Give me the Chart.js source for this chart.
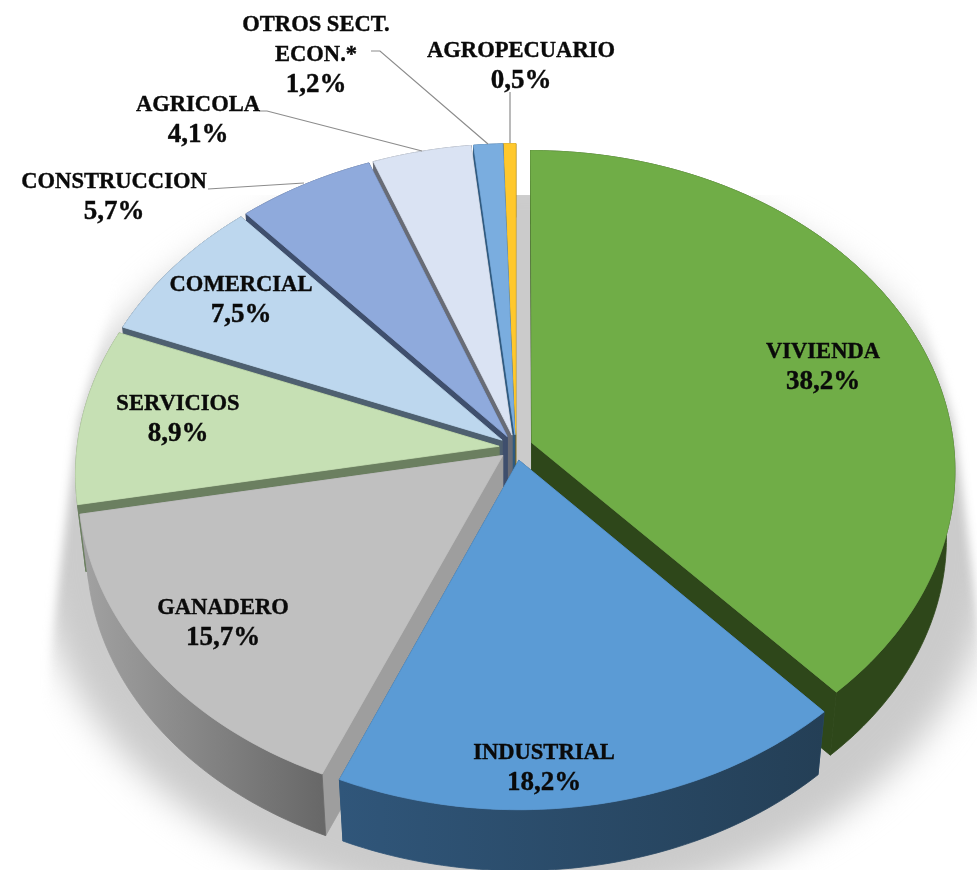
<!DOCTYPE html>
<html lang="es">
<head>
    <meta charset="UTF-8">
    <title>Consumo por sector</title>
    <script src="https://cdn.jsdelivr.net/npm/chart.js"></script>
    <style>
        html, body { margin: 0; padding: 0; background: #fff; overflow: hidden; }
        canvas { display: block; }
    </style>
</head>
<body>
    <canvas id="pie" width="977" height="870"></canvas>

    <script>
        // Data
        const categories = ['VIVIENDA', 'INDUSTRIAL', 'GANADERO', 'SERVICIOS', 'COMERCIAL', 'CONSTRUCCION', 'AGRICOLA', 'OTROS SECT.\nECON.*', 'AGROPECUARIO'];
        const shares = [38.2, 18.2, 15.7, 8.9, 7.5, 5.7, 4.1, 1.2, 0.5];

        // Styles
        const topColors = ['#70ad47', '#5b9bd5', '#c0c0c0', '#c6e0b4', '#bdd7ee', '#8faadc', '#dae3f3', '#7aaddf', '#ffc82c'];
        const wallColors = [['#2e471a', '#2e471a'], ['#30567a', '#243f56'], ['#a2a2a2', '#686868'], ['#6b7f60', '#6b7f60'], ['#4e6070', '#4e6070'], ['#3f4f6d', '#3f4f6d'], ['#686c76', '#686c76'], ['#2f5a80', '#2f5a80'], ['#8a6d10', '#8a6d10']];
        const cutColors = ['#2e471a', '#2b5478', '#9e9e9e', '#6b7f60', '#4e6070', '#3f4f6d', '#686c76', '#2f5a80', '#8a6d10'];

        // Layout of the texts, centre of the first line of each label
        const labelCenters = [[823, 351], [544, 752], [223, 607], [178, 403], [241, 284], [114, 181], [198, 104], [316, 24], [521, 50]];
        const leaderLines = [
            [[208, 189], [304, 183]],
            [[259, 111], [267, 111], [422, 151]],
            [[371, 51], [380, 51], [488, 144]],
            [[510, 92], [510, 143]]
        ];
        const lineHeight = 29.5;

        // Tilted view of the pie plane
        const squash = 0.753;
        const persp = 0.0845;
        const depth = 68;
        const bottomScale = 0.98;

        function project(arc, dx, dy) {
            const w = 1 - persp * dy / arc.outerRadius;
            return [arc.x + dx / w, arc.y + squash * dy / w];
        }

        function tracePoly(ctx, pts) {
            ctx.beginPath();
            pts.forEach((p, n) => n ? ctx.lineTo(p[0], p[1]) : ctx.moveTo(p[0], p[1]));
            ctx.closePath();
        }

        function drawSlice(ctx, arc, i) {
            const off = arc.options.offset;
            const mid = (arc.startAngle + arc.endAngle) / 2;
            const ox = Math.cos(mid) * off;
            const oy = Math.sin(mid) * off;
            const apex = project(arc, ox, oy);

            const rim = [];
            const steps = Math.max(2, Math.ceil((arc.endAngle - arc.startAngle) * 60));
            for (let s = 0; s <= steps; s++) {
                const a = arc.startAngle + (arc.endAngle - arc.startAngle) * s / steps;
                rim.push(project(arc, ox + Math.cos(a) * arc.outerRadius, oy + Math.sin(a) * arc.outerRadius));
            }
            const lower = p => [apex[0] + bottomScale * (p[0] - apex[0]), apex[1] + bottomScale * (p[1] - apex[1]) + depth];
            const rimLow = rim.map(lower);
            const apexLow = lower(apex);

            const fillPoly = (pts, fill) => {
                tracePoly(ctx, pts);
                ctx.fillStyle = fill;
                ctx.fill();
                // closes the hairline between neighbouring faces
                ctx.strokeStyle = fill;
                ctx.lineWidth = 0.8;
                ctx.stroke();
            };

            // cut faces
            const first = rim[0], last = rim[rim.length - 1];
            fillPoly([apex, first, rimLow[0], apexLow], cutColors[i]);
            fillPoly([apex, last, rimLow[rimLow.length - 1], apexLow], cutColors[i]);

            // outer wall
            const xs = rim.map(p => p[0]);
            const grad = ctx.createLinearGradient(Math.min(...xs), 0, Math.max(...xs), 0);
            grad.addColorStop(0, wallColors[i][0]);
            grad.addColorStop(1, wallColors[i][1]);
            fillPoly(rim.concat(rimLow.slice().reverse()), grad);

            // top face
            fillPoly([apex].concat(rim), arc.options.backgroundColor);
        }

        function drawShadow(ctx, cx, cy, r) {
            ctx.save();
            ctx.beginPath();
            ctx.rect(0, 195, 977, 675);
            ctx.clip();
            ctx.filter = 'blur(17px)';
            ctx.fillStyle = '#cbcbcb';
            ctx.beginPath();
            ctx.ellipse(cx, cy + 92, r * 1.14, r * 0.88, 0, 0, Math.PI * 2);
            ctx.fill();

            // the sides of the shadow stop along straight, softer lines
            ctx.filter = 'blur(5px)';
            ctx.fillStyle = '#fff';
            [-1, 1].forEach(side => {
                const edge = [[400, 280], [438, 420], [466, 650], [492, 870], [560, 870], [560, 280]];
                tracePoly(ctx, edge.map(e => [cx + side * e[0], e[1]]));
                ctx.fill();
            });
            ctx.restore();
        }

        const tiltedPie = {
            id: 'tiltedPie',
            beforeDatasetsDraw(chart) {
                const ctx = chart.ctx;
                const arcs = chart.getDatasetMeta(0).data;
                drawShadow(ctx, arcs[0].x, arcs[0].y, arcs[0].outerRadius);

                // back to front
                const order = arcs.map((a, i) => i).sort((p, q) => {
                    const my = a => Math.sin((a.startAngle + a.endAngle) / 2);
                    return my(arcs[p]) - my(arcs[q]);
                });
                order.forEach(i => drawSlice(ctx, arcs[i], i));
                return false;
            },
            afterDraw(chart) {
                const ctx = chart.ctx;
                ctx.save();
                ctx.strokeStyle = '#8c8c8c';
                ctx.lineWidth = 1.2;
                leaderLines.forEach(line => {
                    ctx.beginPath();
                    line.forEach((p, n) => n ? ctx.lineTo(p[0], p[1]) : ctx.moveTo(p[0], p[1]));
                    ctx.stroke();
                });
                ctx.fillStyle = '#0a0a0a';
                ctx.strokeStyle = '#0a0a0a';
                ctx.lineWidth = 0.4;
                ctx.textAlign = 'center';
                ctx.textBaseline = 'middle';
                const put = (txt, x, y, font, stretch) => {
                    ctx.save();
                    ctx.translate(x, y);
                    ctx.scale(stretch, 1);
                    ctx.font = font;
                    ctx.fillText(txt, 0, 0);
                    ctx.strokeText(txt, 0, 0);
                    ctx.restore();
                };
                categories.forEach((name, i) => {
                    const lines = name.split('\n');
                    const x = labelCenters[i][0], y = labelCenters[i][1];
                    lines.forEach((txt, n) => put(txt, x, y + 1 + n * lineHeight, 'bold 24px "Liberation Serif"', 0.94));
                    const pct = shares[i].toFixed(1).replace('.', ',') + '%';
                    put(pct, x, y + 2 + lines.length * lineHeight, 'bold 27px "Liberation Serif"', 1);
                });
                ctx.restore();
            }
        };

        new Chart(document.getElementById('pie').getContext('2d'), {
            type: 'pie',
            data: {
                labels: categories,
                datasets: [{ data: shares, backgroundColor: topColors, borderWidth: 0, offset: 17, radius: 422 }]
            },
            options: {
                responsive: false,
                animation: false,
                layout: { padding: { left: 55, top: 25 } },
                plugins: { legend: { display: false }, tooltip: { enabled: false } }
            },
            plugins: [tiltedPie]
        });
    </script>
</body>
</html>
